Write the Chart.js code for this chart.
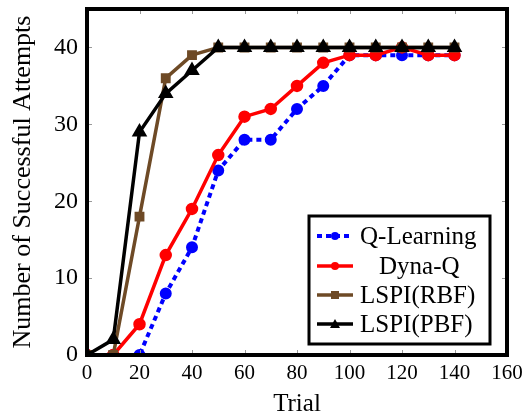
<!DOCTYPE html>
<html>
<head>
<meta charset="utf-8">
<script src="https://cdn.jsdelivr.net/npm/chart.js@4"></script>
<style>
  html, body { margin: 0; padding: 0; background: #fff; }
  #wrap { width: 530px; height: 419px; }
</style>
</head>
<body>
<div id="wrap"><canvas id="chart" width="530" height="419"></canvas></div>
<script>
const trials = [0, 10, 20, 30, 40, 50, 60, 70, 80, 90, 100, 110, 120, 130, 140];
const qLearning = [0, 0, 0, 8, 14, 24, 28, 28, 32, 35, 39, 39, 39, 39, 39];
const dynaQ = [0, 0, 4, 13, 19, 26, 31, 32, 35, 38, 39, 39, 40, 39, 39];
const lspiRbf = [0, 0, 18, 36, 39, 40, 40, 40, 40, 40, 40, 40, 40, 40, 40];
const lspiPbf = [0, 2, 29, 34, 37, 40, 40, 40, 40, 40, 40, 40, 40, 40, 40];
const xTicks = [0, 20, 40, 60, 80, 100, 120, 140, 160];
const yTicks = [0, 10, 20, 30, 40];

const serif = '"Liberation Serif", "DejaVu Serif", serif';
const brown = '#6e4a26';

const pts = arr => arr.map((v, i) => ({ x: trials[i], y: v }));

// drop the automatic overflow padding so layout.padding fixes the plot box
const noPad = s => { s.paddingTop = 0; s.paddingBottom = 0; s.paddingLeft = 0; s.paddingRight = 0; };

// frame, inward ticks and boxed legend
const framePlugin = {
  id: 'frame',
  afterDatasetsDraw(chart) {
    const { ctx, chartArea: a, scales } = chart;
    ctx.save();
    ctx.strokeStyle = '#999';
    ctx.lineWidth = 1;
    ctx.beginPath();
    xTicks.forEach(t => {
      const px = Math.round(scales.x.getPixelForValue(t)) + 0.5;
      ctx.moveTo(px, a.bottom); ctx.lineTo(px, a.bottom - 5);
      ctx.moveTo(px, a.top); ctx.lineTo(px, a.top + 5);
    });
    yTicks.forEach(t => {
      const py = Math.round(scales.y.getPixelForValue(t)) + 0.5;
      ctx.moveTo(a.left, py); ctx.lineTo(a.left + 5, py);
      ctx.moveTo(a.right, py); ctx.lineTo(a.right - 5, py);
    });
    ctx.stroke();
    ctx.strokeStyle = '#000';
    ctx.lineWidth = 4;
    ctx.strokeRect(a.left, a.top, a.right - a.left, a.bottom - a.top);

    // legend
    const lx = 309, ly = 216, lw = 181, lh = 128;
    ctx.fillStyle = '#fff';
    ctx.fillRect(lx, ly, lw, lh);
    ctx.lineWidth = 3;
    ctx.strokeRect(lx, ly, lw, lh);
    ctx.font = '25px ' + serif;
    ctx.textBaseline = 'middle';
    const rows = [236, 266, 295, 324];
    chart.data.datasets.forEach((ds, i) => {
      const y = rows[i];
      ctx.save();
      ctx.strokeStyle = ds.borderColor;
      ctx.lineWidth = ds.borderWidth;
      ctx.setLineDash(ds.borderDash || []);
      ctx.beginPath();
      ctx.moveTo(317, y); ctx.lineTo(353, y);
      ctx.stroke();
      ctx.restore();
      ctx.fillStyle = ds.pointBackgroundColor;
      const s = ds.pointStyle, cx = 335;
      ctx.beginPath();
      if (s === 'rect') ctx.rect(cx - 4, y - 4, 8, 8);
      else if (s === 'triangle') { ctx.moveTo(cx, y - 5); ctx.lineTo(cx + 5, y + 4); ctx.lineTo(cx - 5, y + 4); ctx.closePath(); }
      else ctx.arc(cx, y, 4, 0, Math.PI * 2);
      ctx.fill();
      ctx.fillStyle = '#000';
      ctx.textAlign = 'left';
      ctx.fillText(ds.label, i === 1 ? 379 : 360, y + 1);
    });
    ctx.restore();
  }
};

new Chart(document.getElementById('chart'), {
  type: 'line',
  data: {
    datasets: [
      { label: 'Q-Learning', data: pts(qLearning), borderColor: '#0000ff', backgroundColor: '#0000ff',
        pointBackgroundColor: '#0000ff', pointBorderColor: '#0000ff', borderWidth: 4, borderDash: [5, 4],
        pointStyle: 'circle', pointRadius: 4, order: 4 },
      { label: 'Dyna-Q', data: pts(dynaQ), borderColor: '#ff0000', backgroundColor: '#ff0000',
        pointBackgroundColor: '#ff0000', pointBorderColor: '#ff0000', borderWidth: 3.5,
        pointStyle: 'circle', pointRadius: 4.5, order: 3 },
      { label: 'LSPI(RBF)', data: pts(lspiRbf), borderColor: brown, backgroundColor: brown,
        pointBackgroundColor: brown, pointBorderColor: brown, borderWidth: 3.5,
        pointStyle: 'rect', pointRadius: 4.5, order: 2 },
      { label: 'LSPI(PBF)', data: pts(lspiPbf), borderColor: '#000', backgroundColor: '#000',
        pointBackgroundColor: '#000', pointBorderColor: '#000', borderWidth: 3.5,
        pointStyle: 'triangle', pointRadius: 5.5, order: 1 }
    ]
  },
  options: {
    responsive: false,
    animation: false,
    layout: { padding: { left: 0, top: 8, right: 23, bottom: 0 } },
    plugins: { legend: { display: false }, tooltip: { enabled: false } },
    scales: {
      x: {
        type: 'linear', min: 0, max: 160,
        afterBuildTicks: s => { s.ticks = xTicks.map(v => ({ value: v })); },
        afterFit: s => { s.height = 64; noPad(s); },
        grid: { display: false, tickLength: 0 }, border: { display: false },
        ticks: { color: '#000', font: { family: serif, size: 21 }, padding: 6, maxRotation: 0 },
        title: { display: true, text: 'Trial', color: '#000', font: { family: serif, size: 25 }, padding: { top: 0, bottom: 0 } }
      },
      y: {
        type: 'linear', min: 0, max: 45,
        afterBuildTicks: s => { s.ticks = yTicks.map(v => ({ value: v })); },
        afterFit: s => { s.width = 87; noPad(s); },
        grid: { display: false, tickLength: 0 }, border: { display: false },
        ticks: { color: '#000', font: { family: serif, size: 24 }, padding: 9 },
        title: { display: true, text: 'Number of Successful Attempts', color: '#000', font: { family: serif, size: 26 }, padding: { top: 8, bottom: 0 } }
      }
    }
  },
  plugins: [framePlugin]
});
</script>
</body>
</html>
